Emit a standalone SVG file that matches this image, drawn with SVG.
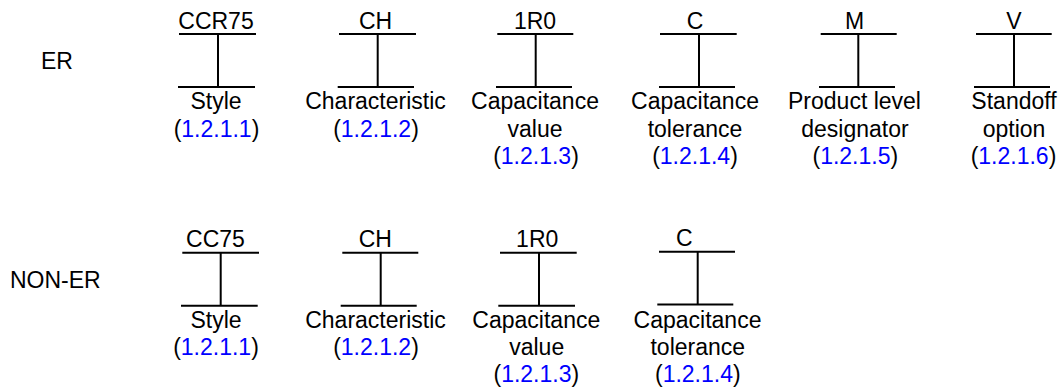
<svg xmlns="http://www.w3.org/2000/svg" width="1063" height="389" viewBox="0 0 1063 389">
<style>
text{font-family:"Liberation Sans",Arial,sans-serif;font-size:23px;fill:#000;text-anchor:middle}
.lbl{text-anchor:start}
.ref{fill:#0000ff}
line{stroke:#000;stroke-width:2}
</style>
<rect width="1063" height="389" fill="#fff"/>
<text class="lbl" x="41" y="69">ER</text>
<text class="lbl" x="10" y="288">NON-ER</text>
<g id="connectors">
<line x1="218" y1="34" x2="218" y2="87"/>
<line x1="377.7" y1="34" x2="377.7" y2="87"/>
<line x1="535.7" y1="34" x2="535.7" y2="87"/>
<line x1="699" y1="34" x2="699" y2="87"/>
<line x1="858.3" y1="34" x2="858.3" y2="87"/>
<line x1="1014" y1="34" x2="1014" y2="87"/>
<line x1="220.7" y1="252.7" x2="220.7" y2="305.7"/>
<line x1="380.7" y1="252.7" x2="380.7" y2="305.7"/>
<line x1="539" y1="252.7" x2="539" y2="305.7"/>
<line x1="697.7" y1="251.7" x2="697.7" y2="304.5"/>
</g>
<g id="er-style">
<line x1="179" y1="34" x2="256" y2="34"/><line x1="178" y1="87" x2="255" y2="87"/>
<text x="216" y="29">CCR75</text>
<text x="216" y="109.3">Style</text>
<text x="216.5" y="136.5">(<tspan class="ref">1.2.1.1</tspan>)</text>
</g>
<g id="er-characteristic">
<line x1="339" y1="34" x2="416" y2="34"/><line x1="337.7" y1="87" x2="414" y2="87"/>
<text x="375.5" y="29">CH</text>
<text x="375.5" y="109.3">Characteristic</text>
<text x="376" y="136.5">(<tspan class="ref">1.2.1.2</tspan>)</text>
</g>
<g id="er-capacitance-value">
<line x1="497.3" y1="34" x2="573.3" y2="34"/><line x1="496" y1="87" x2="572" y2="87"/>
<text x="535" y="29">1R0</text>
<text x="535" y="109.3">Capacitance</text>
<text x="535" y="136.5">value</text>
<text x="536" y="163.7">(<tspan class="ref">1.2.1.3</tspan>)</text>
</g>
<g id="er-capacitance-tolerance">
<line x1="660" y1="34" x2="736.7" y2="34"/><line x1="659" y1="87" x2="735" y2="87"/>
<text x="695" y="29">C</text>
<text x="695" y="109.3">Capacitance</text>
<text x="695" y="136.5">tolerance</text>
<text x="695" y="163.7">(<tspan class="ref">1.2.1.4</tspan>)</text>
</g>
<g id="er-product-level">
<line x1="820.7" y1="34" x2="896.7" y2="34"/><line x1="819" y1="87" x2="895" y2="87"/>
<text x="854.5" y="29">M</text>
<text x="854.5" y="109.3">Product level</text>
<text x="855" y="136.5">designator</text>
<text x="855.3" y="163.7">(<tspan class="ref">1.2.1.5</tspan>)</text>
</g>
<g id="er-standoff">
<line x1="976" y1="34" x2="1051.7" y2="34"/><line x1="974" y1="87" x2="1050" y2="87"/>
<text x="1014" y="29">V</text>
<text x="1014" y="109.3">Standoff</text>
<text x="1014" y="136.5">option</text>
<text x="1013.5" y="163.7">(<tspan class="ref">1.2.1.6</tspan>)</text>
</g>
<g id="noner-style">
<line x1="182.3" y1="252.7" x2="259" y2="252.7"/><line x1="181" y1="305.7" x2="257.7" y2="305.7"/>
<text x="215.5" y="246.7">CC75</text>
<text x="216" y="328">Style</text>
<text x="216" y="355">(<tspan class="ref">1.2.1.1</tspan>)</text>
</g>
<g id="noner-characteristic">
<line x1="342.3" y1="252.7" x2="418.3" y2="252.7"/><line x1="340.7" y1="305.7" x2="416.7" y2="305.7"/>
<text x="375.3" y="246.7">CH</text>
<text x="375.5" y="328">Characteristic</text>
<text x="376" y="355">(<tspan class="ref">1.2.1.2</tspan>)</text>
</g>
<g id="noner-capacitance-value">
<line x1="500" y1="252.7" x2="576.7" y2="252.7"/><line x1="498.3" y1="305.7" x2="575" y2="305.7"/>
<text x="537.2" y="246.7">1R0</text>
<text x="536.3" y="328">Capacitance</text>
<text x="536.7" y="355">value</text>
<text x="536.3" y="382">(<tspan class="ref">1.2.1.3</tspan>)</text>
</g>
<g id="noner-capacitance-tolerance">
<line x1="659" y1="251.7" x2="735" y2="251.7"/><line x1="657.3" y1="304.5" x2="733.3" y2="304.5"/>
<text x="684.2" y="246">C</text>
<text x="697.5" y="328">Capacitance</text>
<text x="697.8" y="355">tolerance</text>
<text x="697.8" y="382">(<tspan class="ref">1.2.1.4</tspan>)</text>
</g>
</svg>
